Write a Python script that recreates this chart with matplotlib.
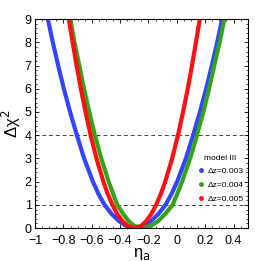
import matplotlib
matplotlib.use('Agg')
import matplotlib.pyplot as plt
from matplotlib.ticker import MultipleLocator, FixedLocator

plt.rcParams['font.family'] = ['Liberation Sans', 'DejaVu Sans']

# delta chi^2 levels (left branch, then right branch)
chi_left = [9, 8, 7, 6, 5, 4, 3, 2, 1.5, 1, 0.6, 0.3, 0.1, 0]
chi_right = [0.1, 0.3, 0.6, 1, 1.5, 2, 3, 4, 5, 6, 7, 8, 9]

eta_blue = [-0.91, -0.875, -0.837, -0.797, -0.753, -0.705, -0.654, -0.592, -0.555, -0.51,
            -0.459, -0.407, -0.358, -0.295,
            -0.232, -0.183, -0.131, -0.08, -0.035, 0.002, 0.064, 0.115, 0.163, 0.207,
            0.247, 0.285, 0.32]
eta_green = [-0.751, -0.722, -0.688, -0.655, -0.618, -0.578, -0.533, -0.481, -0.451, -0.42,
             -0.377, -0.34, -0.302, -0.248,
             -0.182, -0.132, -0.083, -0.03, 0.005, 0.037, 0.094, 0.142, 0.187, 0.227,
             0.264, 0.302, 0.335]
eta_red = [-0.762, -0.735, -0.707, -0.677, -0.644, -0.608, -0.567, -0.518, -0.489, -0.454,
           -0.419, -0.384, -0.349, -0.30,
           -0.251, -0.216, -0.181, -0.146, -0.111, -0.082, -0.033, 0.008, 0.044, 0.077,
           0.107, 0.135, 0.162]

labels = ['\u0394z=0.003', '\u0394z=0.004', '\u0394z=0.005']
colors = ['#3344ff', '#33a31a', '#ff1010']
levels = [1, 4]

chi = chi_left + chi_right

fig = plt.figure(figsize=(2.74, 2.61), dpi=100)
ax = fig.add_axes([0.128, 0.126, 0.776, 0.801])

for eta, c, lab in zip([eta_blue, eta_green, eta_red], colors, labels):
    ax.plot(eta, chi, color=c, lw=3.0, solid_capstyle='round', solid_joinstyle='round')
    ax.plot([], [], 'o', color=c, ms=2.5, label=lab)

for lv in levels:
    ax.axhline(lv, color='#444444', lw=0.7, ls=(0, (4, 3)), zorder=0)

ax.set_xlim(-1, 0.5)
ax.set_ylim(0, 9)
ax.xaxis.set_major_locator(FixedLocator([-1, -0.8, -0.6, -0.4, -0.2, 0, 0.2, 0.4]))
ax.set_xticklabels(['\u22121', '\u22120.8', '\u22120.6', '\u22120.4', '\u22120.2', '0', '0.2', '0.4'])
ax.xaxis.set_minor_locator(MultipleLocator(0.05))
ax.yaxis.set_major_locator(MultipleLocator(1))
ax.yaxis.set_minor_locator(MultipleLocator(0.2))
ax.tick_params(which='both', direction='in', top=True, right=True, labelsize=9)
ax.tick_params(axis='x', pad=5)
ax.tick_params(axis='y', pad=2.5)
ax.tick_params(which='major', length=3, width=0.6)
ax.tick_params(which='minor', length=1.5, width=0.5)
for s in ax.spines.values():
    s.set_linewidth(0.8)

ax.set_xlabel('\u03b7$_{\\rm a}$', fontsize=12, labelpad=-1)
ax.set_ylabel('\u0394\u03c7$^2$', fontsize=12, labelpad=1)

leg = ax.legend(loc='upper left', bbox_to_anchor=(0.74, 0.375), frameon=False,
                fontsize=6, title='model III', title_fontsize=6,
                handlelength=0.8, handletextpad=0.4, labelspacing=0.7,
                borderpad=0.1)

fig.savefig('out.png', dpi=100)
